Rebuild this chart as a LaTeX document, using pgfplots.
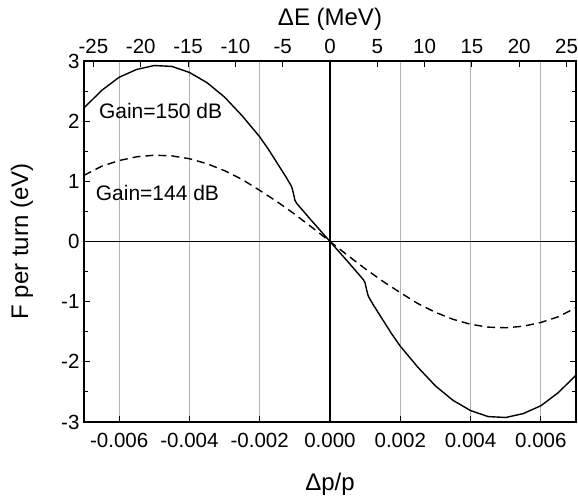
\documentclass[border=0pt]{standalone}
\usepackage{fontspec}
\setmainfont{Liberation Sans}
\usepackage{pgfplots}
\pgfplotsset{compat=1.18}
\begin{document}
\begin{tikzpicture}
\useasboundingbox (-84pt,-74pt) rectangle (494pt,422pt);
\begin{axis}[
  scale only axis, width=492pt, height=361pt,
  xmin=-0.007, xmax=0.007, ymin=-3, ymax=3,
  scaled x ticks=false,
  xtick={-0.006,-0.004,-0.002,0,0.002,0.004,0.006},
  xticklabels={-0.006,-0.004,-0.002,0.000,0.002,0.004,0.006},
  ytick={-3,-2,-1,0,1,2,3}, yticklabels={-3,-2,-1,0,1,2,3},
  minor ytick={-2.5,-1.5,-0.5,0.5,1.5,2.5},
  xtick pos=bottom, ytick pos=both, tick align=inside,
  xmajorgrids, grid style={black!30, line width=0.9pt},
  major tick length=6pt, minor tick length=4pt,
  tick style={black, line width=1pt},
  axis line style={line width=1.1pt},
  tick label style={font=\fontsize{20.5}{24}\selectfont},
  xticklabel style={yshift=-8pt},
  yticklabel style={xshift=-1pt},
  xlabel={Δp/p}, ylabel={F per turn (eV)},
  label style={font=\fontsize{24}{28}\selectfont},
  xlabel style={at={(axis description cs:0.5,-0.1884)}, anchor=base},
  ylabel style={at={(axis description cs:-0.1138,0.5)}, anchor=base},
  clip=true,
]
\draw[black, line width=1.1pt] (axis cs:0,-3) -- (axis cs:0,3);
\draw[black, line width=1.1pt] (axis cs:-0.007,0) -- (axis cs:0.007,0);
\addplot[black, line width=1.4pt] coordinates {
(-0.007,2.22) (-0.0065,2.51) (-0.006,2.73) (-0.0055,2.86) (-0.005,2.925)
(-0.0045,2.91) (-0.004,2.81) (-0.0035,2.64) (-0.003,2.40) (-0.0025,2.09)
(-0.002,1.74) (-0.00175,1.53) (-0.0015,1.30) (-0.00125,1.07) (-0.00114,0.96)
(-0.00109,0.91) (-0.00104,0.80) (-0.00100,0.69) (-0.00095,0.635) (-0.0005,0.33)
(0,0)
(0.0005,-0.33) (0.00095,-0.635) (0.00100,-0.69) (0.00104,-0.80) (0.00109,-0.91)
(0.00114,-0.96) (0.00125,-1.07) (0.0015,-1.30) (0.00175,-1.53) (0.002,-1.74)
(0.0025,-2.09) (0.003,-2.40) (0.0035,-2.64) (0.004,-2.81) (0.0045,-2.91)
(0.005,-2.925) (0.0055,-2.86) (0.006,-2.73) (0.0065,-2.51) (0.007,-2.22)
};
\addplot[black, line width=1.4pt, dash pattern=on 8pt off 5pt] coordinates {
(-0.007,1.10) (-0.0065,1.25) (-0.006,1.346) (-0.0055,1.408) (-0.005,1.434)
(-0.0045,1.423) (-0.004,1.376) (-0.0035,1.293) (-0.003,1.177) (-0.0025,1.031)
(-0.002,0.850) (-0.0015,0.660) (-0.001,0.452) (-0.0005,0.229) (0,0)
(0.0005,-0.229) (0.001,-0.452) (0.0015,-0.660) (0.002,-0.850) (0.0025,-1.031)
(0.003,-1.177) (0.0035,-1.293) (0.004,-1.376) (0.0045,-1.423) (0.005,-1.434)
(0.0055,-1.408) (0.006,-1.346) (0.0065,-1.25) (0.007,-1.10)
};
\node[font=\fontsize{21}{25}\selectfont] at (axis cs:-0.00482,2.17) {Gain=150 dB};
\node[font=\fontsize{21}{25}\selectfont] at (axis cs:-0.00491,0.80) {Gain=144 dB};
\end{axis}
\begin{axis}[
  scale only axis, width=492pt, height=361pt,
  xmin=-26, xmax=26, ymin=-3, ymax=3,
  axis x line*=top, hide y axis,
  xtick={-25,-20,-15,-10,-5,0,5,10,15,20,25},
  xticklabels={-25,-20,-15,-10,-5,0,5,10,15,20,25},
  tick align=inside, major tick length=6pt,
  tick style={black, line width=1pt},
  axis line style={line width=1.1pt},
  tick label style={font=\fontsize{20.5}{24}\selectfont},
  xticklabel style={yshift=4pt},
  xlabel={ΔE (MeV)},
  label style={font=\fontsize{24}{28}\selectfont},
  xlabel style={at={(axis description cs:0.5,1.0997)}, anchor=base},
]
\end{axis}
\end{tikzpicture}
\end{document}
